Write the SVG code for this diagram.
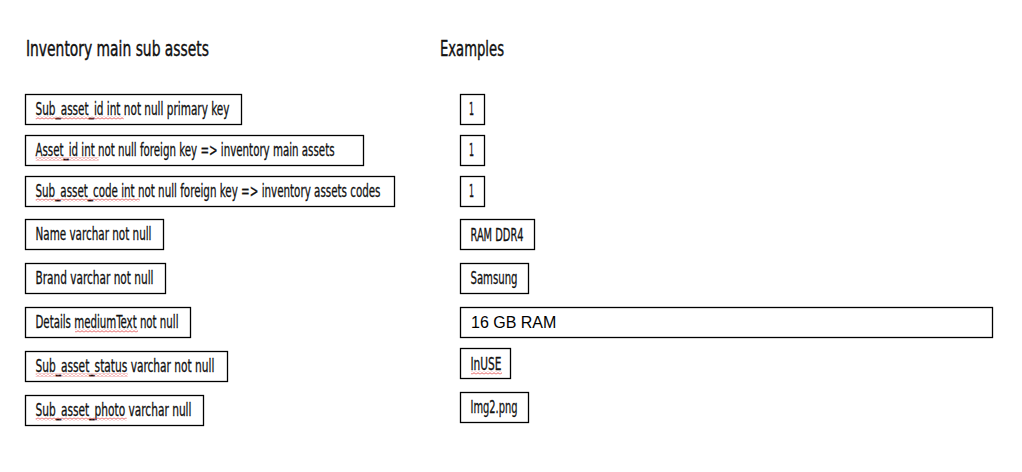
<svg xmlns="http://www.w3.org/2000/svg" width="1022" height="472" viewBox="0 0 1022 472">
<style>
.bg{fill:#ffffff}
.box{fill:#ffffff;stroke:#000000;stroke-width:1.3}
.t{font-family:"DejaVu Sans Condensed","DejaVu Sans",sans-serif;font-stretch:condensed;font-size:17.5px;fill:#111111;stroke:#111111;stroke-width:0.3}
.h{font-family:"DejaVu Sans Condensed","DejaVu Sans",sans-serif;font-stretch:condensed;font-size:20.5px;fill:#111111;stroke:#111111;stroke-width:0.4}
.a{font-family:"Liberation Sans",Arial,sans-serif;font-size:16px;fill:#000000}
.sq{fill:url(#squig)}
</style>
<defs>
<pattern id="squig" patternUnits="userSpaceOnUse" x="0" y="0" width="4" height="3">
<path d="M0,2.3 L2,0.7 L4,2.3" fill="none" stroke="#e03a3a" stroke-width="0.8"/>
</pattern>
</defs>
<rect class="bg" x="0" y="0" width="1022" height="472"/>

<g id="titles">
<text class="h" x="26" y="55.5" textLength="183" lengthAdjust="spacingAndGlyphs">Inventory main sub assets</text>
<text class="h" x="440" y="56" textLength="64" lengthAdjust="spacingAndGlyphs">Examples</text>
</g>

<g id="field-sub-asset-id">
<rect class="box" x="25.5" y="94.5" width="216" height="30"/>
<text class="t" x="35.5" y="115" textLength="194" lengthAdjust="spacingAndGlyphs">Sub_asset_id int not null primary key</text>
<rect class="sq" x="35.7" y="116.5" width="88" height="3"/>
</g>
<g id="field-asset-id">
<rect class="box" x="25.5" y="135.5" width="338" height="30"/>
<text class="t" x="35.5" y="156" textLength="299" lengthAdjust="spacingAndGlyphs">Asset_id int not null foreign key =&gt; inventory main assets</text>
<rect class="sq" x="35.7" y="157.5" width="63" height="3"/>
</g>
<g id="field-sub-asset-code">
<rect class="box" x="25.5" y="176.5" width="369" height="30"/>
<text class="t" x="35.5" y="197" textLength="345" lengthAdjust="spacingAndGlyphs">Sub_asset_code int not null foreign key =&gt; inventory assets codes</text>
<rect class="sq" x="35.7" y="198.5" width="104" height="3"/>
</g>
<g id="field-name">
<rect class="box" x="25.5" y="219.5" width="138" height="30"/>
<text class="t" x="35.5" y="240" textLength="116" lengthAdjust="spacingAndGlyphs">Name varchar not null</text>
</g>
<g id="field-brand">
<rect class="box" x="25.5" y="263.5" width="140" height="30"/>
<text class="t" x="35.5" y="284" textLength="118" lengthAdjust="spacingAndGlyphs">Brand varchar not null</text>
</g>
<g id="field-details">
<rect class="box" x="25.5" y="307.5" width="165" height="30"/>
<text class="t" x="35.5" y="328" textLength="143" lengthAdjust="spacingAndGlyphs">Details mediumText not null</text>
<rect class="sq" x="75" y="329.5" width="63" height="3"/>
</g>
<g id="field-sub-asset-status">
<rect class="box" x="25.5" y="351.5" width="202" height="30"/>
<text class="t" x="35.5" y="372" textLength="179" lengthAdjust="spacingAndGlyphs">Sub_asset_status varchar not null</text>
<rect class="sq" x="35.7" y="373.5" width="92" height="3"/>
</g>
<g id="field-sub-asset-photo">
<rect class="box" x="25.5" y="395.5" width="178" height="30"/>
<text class="t" x="35.5" y="416" textLength="156" lengthAdjust="spacingAndGlyphs">Sub_asset_photo varchar null</text>
<rect class="sq" x="35.7" y="417.5" width="91" height="3"/>
</g>

<g id="example-sub-asset-id">
<rect class="box" x="460.5" y="94.5" width="24" height="30"/>
<text class="t" x="469" y="115" textLength="5" lengthAdjust="spacingAndGlyphs">1</text>
</g>
<g id="example-asset-id">
<rect class="box" x="460.5" y="135.5" width="24" height="30"/>
<text class="t" x="469" y="156" textLength="5" lengthAdjust="spacingAndGlyphs">1</text>
</g>
<g id="example-sub-asset-code">
<rect class="box" x="460.5" y="176.5" width="24" height="30"/>
<text class="t" x="469" y="197" textLength="5" lengthAdjust="spacingAndGlyphs">1</text>
</g>
<g id="example-name">
<rect class="box" x="460.5" y="219.5" width="74" height="30"/>
<text class="t" x="470.5" y="240.5" textLength="53" lengthAdjust="spacingAndGlyphs">RAM DDR4</text>
</g>
<g id="example-brand">
<rect class="box" x="460.5" y="263.5" width="68" height="30"/>
<text class="t" x="470.5" y="284" textLength="47" lengthAdjust="spacingAndGlyphs">Samsung</text>
</g>
<g id="example-details">
<rect class="box" x="460.5" y="307.5" width="532" height="30"/>
<text class="a" x="471" y="328">16 GB RAM</text>
</g>
<g id="example-status">
<rect class="box" x="460.5" y="348.5" width="50" height="30"/>
<text class="t" x="470.5" y="370" textLength="31" lengthAdjust="spacingAndGlyphs">InUSE</text>
<rect class="sq" x="471" y="371.5" width="31" height="3"/>
</g>
<g id="example-photo">
<rect class="box" x="460.5" y="392.5" width="68" height="30"/>
<text class="t" x="470.5" y="413" textLength="47" lengthAdjust="spacingAndGlyphs">Img2.png</text>
</g>

<g id="connectors"></g>
</svg>
